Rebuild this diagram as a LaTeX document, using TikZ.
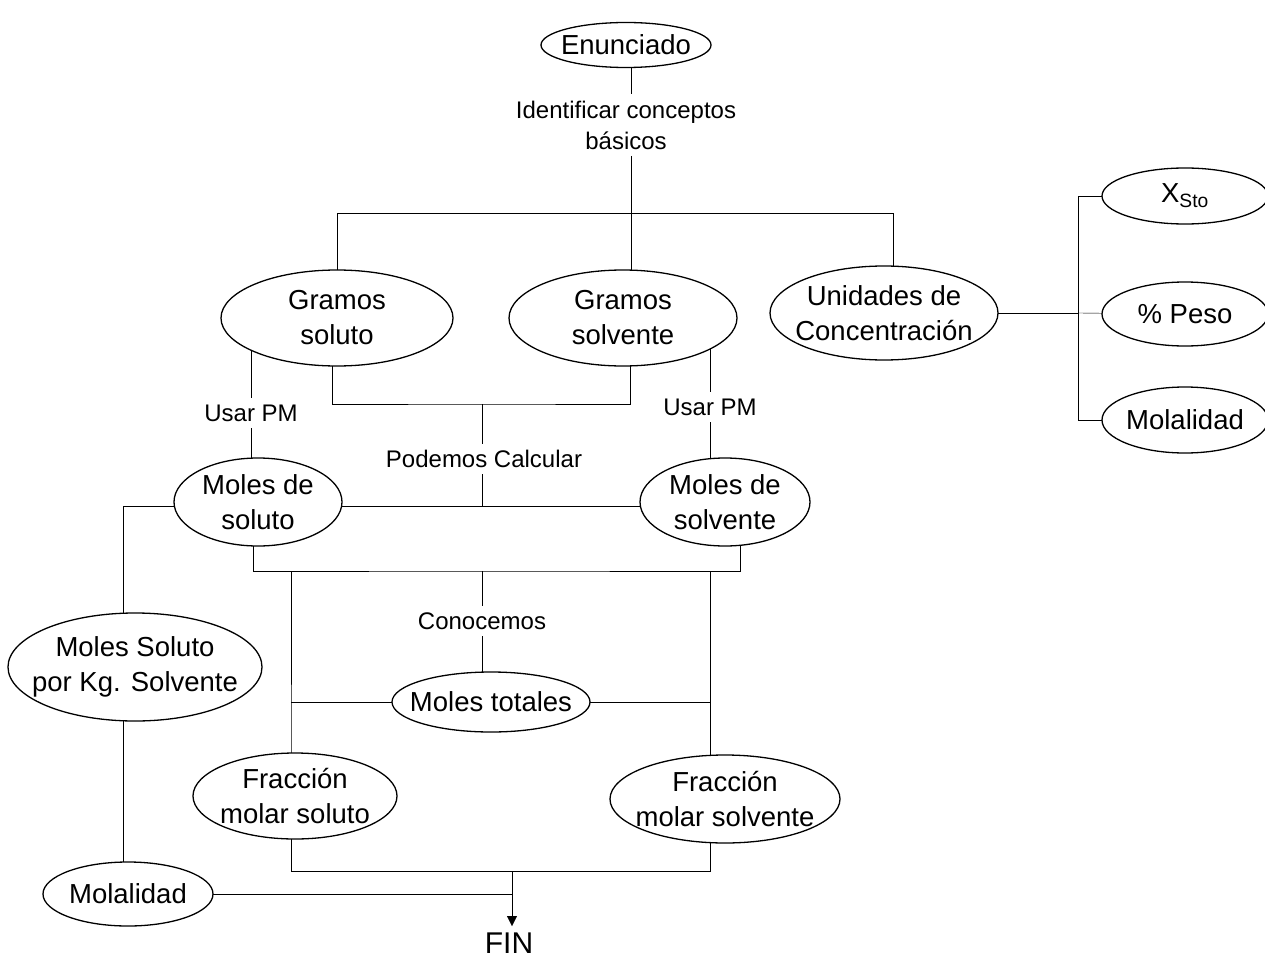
\documentclass[tikz,border=0pt]{standalone}
\usepackage{fontspec}
\setmainfont{Liberation Sans}
\usetikzlibrary{shapes.geometric,arrows.meta,backgrounds}

\tikzset{
  elip/.style 2 args={draw,fill=white,ellipse,inner xsep=-30pt,inner ysep=-20pt,minimum width=#1,minimum height=#2,
    align=center,font=\fontsize{27.5}{35}\selectfont},
  lab/.style={inner sep=6pt,align=center,font=\fontsize{24}{31}\selectfont}
}

\begin{document}
\begin{tikzpicture}[x=1pt,y=-1pt,line width=1.3pt]
		\useasboundingbox (0,0) rectangle (1265,960);
		\node[elip={170}{45}](enun)at(626,45) {Enunciado};
		\node[lab](ident)at(626,125) {Identificar conceptos\\básicos};
		\node[elip={232}{96}](gsto)at(337,318) {Gramos\\soluto};
		\node[elip={228}{96}](gsol)at(623,318) {Gramos\\solvente};
		\node[elip={228}{94}](unid)at(884,313) {Unidades de\\Concentración};
		\node[elip={166}{56}](xsto)at(1185,196) {X\textsubscript{Sto}};
		\node[elip={166}{64}](peso)at(1185,314) {\% Peso};
		\node[elip={166}{66}](mola1)at(1185,420) {Molalidad};
		\node[lab](pm1)at(251,413) {Usar PM};
		\node[lab](pm2)at(710,407) {Usar PM};
		\node[lab](calc)at(484,459) {Podemos Calcular};
		\node[elip={168}{88}](msto)at(258,502) {Moles de\\soluto};
		\node[elip={170}{88}](msol)at(725,502) {Moles de\\solvente};
		\node[lab](conoc)at(482,621) {Conocemos};
		\node[elip={254}{108}](mkg)at(135,667) {Moles Soluto\\por Kg. Solvente};
		\node[elip={198}{60}](mtot)at(491,702) {Moles totales};
		\node[elip={204}{86}](fsto)at(295,796) {Fracción\\molar soluto};
		\node[elip={230}{88}](fsol)at(725,799) {Fracción\\molar solvente};
		\node[elip={170}{64}](mola2)at(128,894) {Molalidad};
		\node[inner sep=6pt,font=\fontsize{30}{30}\selectfont](fin)at(509,943) {FIN};

		\coordinate (top) at (631,213);
		\coordinate (b2) at (893,213);
		\coordinate (r) at (1078,313);
		\coordinate (k1) at (482,404);
		\coordinate (m) at (482,506);
		\coordinate (lft) at (123,506);
		\coordinate (k2) at (482,571);
		\coordinate (v1) at (291,571);
		\coordinate (v2) at (710,571);
		\coordinate (k3) at (512,871);

		\begin{scope}[on background layer]
		\draw (enun.center -| top) -- (ident.north -| top);
		\draw (ident.south -| top) -- (gsol.center -| top);
		\draw (gsto.center) |- (b2) -- (b2 |- unid.center);
		\draw (unid.center) -- (r);
		\draw (xsto.center) -| (r) |- (mola1.center);
		\draw (r) -- (peso.center);

		\draw (pm1.north) -- (pm1 |- gsto.center);
		\draw (pm1.south) -- (pm1 |- msto.center);
		\draw (pm2.north) -- (pm2 |- gsol.center);
		\draw (pm2.south) -- (pm2 |- msol.center);
		\draw ([xshift=-5pt]gsto.center) |- (k1) -| ([xshift=7pt]gsol.center);
		\draw (k1) -- (k1 |- calc.north);
		\draw (m |- calc.south) -- (m);
		\draw (msto.center |- m) -- (msol.center |- m);
		\draw (msto.center |- lft) -- (lft) -- (lft |- mola2.center);

		\draw ([xshift=-5pt]msto.center) |- (k2) -| ([xshift=15pt]msol.center);
		\draw (k2) -- (k2 |- conoc.north);
		\draw (k2 |- conoc.south) -- (k2 |- mtot.center);
		\draw (mtot.center -| v1) -- (mtot.center -| v2);
		\draw (v1) -- (fsto.center -| v1) |- (k3) -| (fsol.center -| v2) -- (v2);
		\draw (mola2.center) -- (mola2.center -| k3);
		\draw[-{Triangle[length=10pt,width=10pt]}] (k3) -- (k3 |- fin.north);
		\end{scope}
	\end{tikzpicture}
\end{document}
